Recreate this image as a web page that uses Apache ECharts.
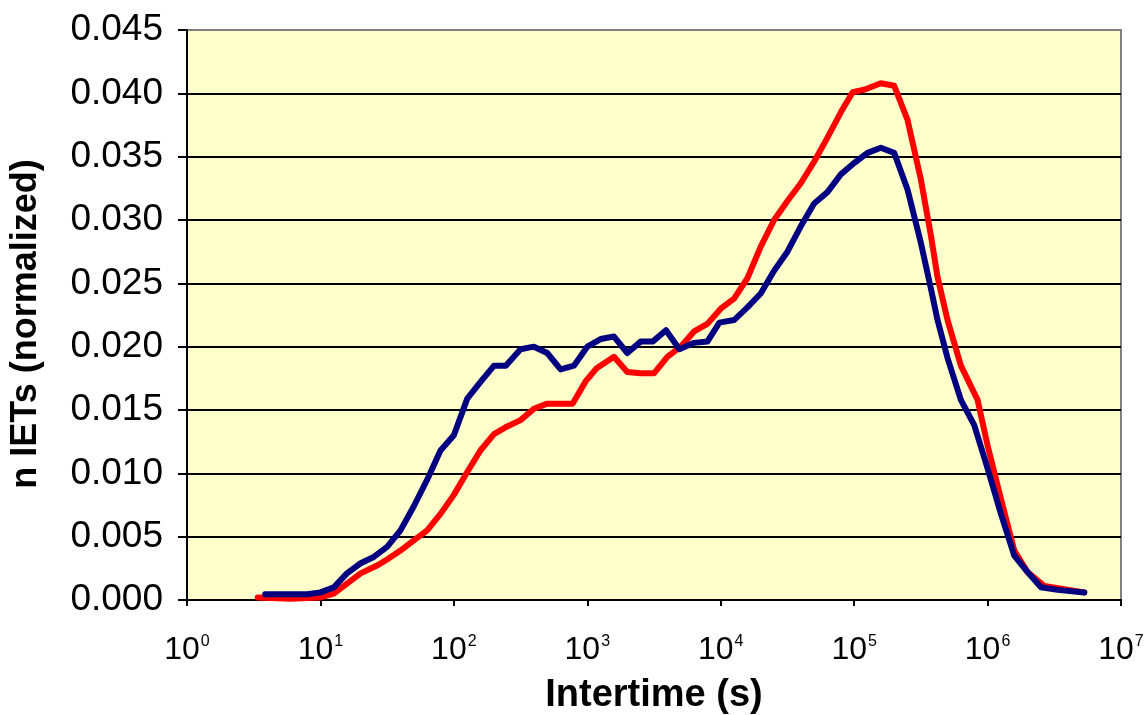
<!DOCTYPE html>
<html>
<head>
<meta charset="utf-8">
<script src="https://cdn.jsdelivr.net/npm/echarts@6/dist/echarts.min.js"></script>
<style>
  html, body { margin: 0; padding: 0; background: #ffffff; }
  #chart { width: 1144px; height: 715px; }
</style>
</head>
<body>
<div id="chart"></div>
<script>
// Intertime (s) and normalized counts
const redTime = [3.39, 5.89, 10, 12.6, 15.8, 20.0, 26.3, 31.6, 39.8, 50.1, 63.1, 79.4, 100, 126, 158, 200, 251, 316, 398, 501, 631, 776, 977, 1175, 1585, 1995, 2512, 3162, 3981, 5012, 6310, 7943, 10000, 12589, 15849, 19953, 25119, 31623, 39811, 50119, 63096, 79433, 97724, 120226, 158489, 199526, 251189, 316228, 375837, 421697, 501187, 630957, 841395, 1000000, 1258925, 1584893, 1995262, 2660725, 5308844];
const redValue = [0.0002, 0.0001, 0.0002, 0.0005, 0.0013, 0.0021, 0.0027, 0.0032, 0.0039, 0.0047, 0.0055, 0.0068, 0.0083, 0.0101, 0.0118, 0.0131, 0.0137, 0.0142, 0.0151, 0.0155, 0.0155, 0.0155, 0.0173, 0.0183, 0.0192, 0.0180, 0.0179, 0.0179, 0.0192, 0.0200, 0.0212, 0.0218, 0.0230, 0.0238, 0.0254, 0.0279, 0.0300, 0.0315, 0.0329, 0.0346, 0.0365, 0.0385, 0.0401, 0.0403, 0.0408, 0.0406, 0.0379, 0.0332, 0.0288, 0.0255, 0.0221, 0.0185, 0.0158, 0.0122, 0.0080, 0.0039, 0.0022, 0.0011, 0.0006];

const blueTime = [3.85, 7.94, 10, 12.6, 15.8, 20.0, 25.1, 31.6, 39.8, 50.1, 63.1, 79.4, 100, 126, 158, 200, 245, 316, 398, 501, 631, 794, 1000, 1259, 1585, 1995, 2512, 3090, 3890, 4898, 6310, 7943, 9772, 12589, 15849, 19953, 25119, 31623, 39811, 50119, 63096, 79433, 100000, 125893, 158489, 199526, 251189, 316228, 375837, 421697, 501187, 630957, 794328, 1000000, 1258925, 1584893, 1995262, 2511886, 3349654, 5308844];
const blueValue = [0.00045, 0.00045, 0.0006, 0.0010, 0.0021, 0.0029, 0.0034, 0.0042, 0.0055, 0.0074, 0.0095, 0.0118, 0.0130, 0.0159, 0.0172, 0.0185, 0.0185, 0.0198, 0.0200, 0.0195, 0.0182, 0.0185, 0.0200, 0.0206, 0.0208, 0.0195, 0.0204, 0.0204, 0.0213, 0.0198, 0.0203, 0.0204, 0.0219, 0.0221, 0.0231, 0.0242, 0.0260, 0.0275, 0.0295, 0.0313, 0.0322, 0.0336, 0.0345, 0.0353, 0.0357, 0.0353, 0.0324, 0.0282, 0.0246, 0.0221, 0.0191, 0.0158, 0.0138, 0.0104, 0.0068, 0.0035, 0.0022, 0.0010, 0.0008, 0.0006];

const xMin = 1, xMax = 1e7;
const yMin = 0, yMax = 0.045, yStep = 0.005;

const xTitle = 'Intertime (s)';
const yTitle = 'n IETs (normalized)';

function pairs(xs, ys) { return xs.map((x, i) => [x, ys[i]]); }

const font = '"Liberation Sans", Arial, sans-serif';
const chart = echarts.init(document.getElementById('chart'), null, { renderer: 'canvas' });

const gridColors = ['#000','#000','#000','#000','#000','#000','#000','#000','#000','#808080'];

chart.setOption({
  animation: false,
  backgroundColor: '#ffffff',
  grid: {
    left: 187, right: 23, top: 30, bottom: 115,
    show: true, backgroundColor: '#FFFFCC', borderColor: '#808080', borderWidth: 2,
    containLabel: false, outerBoundsMode: 'none'
  },
  xAxis: {
    type: 'log', logBase: 10, min: xMin, max: xMax, splitNumber: 7,
    name: xTitle, nameLocation: 'middle', nameGap: 77,
    nameTextStyle: { fontFamily: font, fontSize: 38, fontWeight: 'bold', color: '#000' },
    axisLine: { show: true, lineStyle: { color: '#000', width: 2 } },
    axisTick: { show: true, length: 6, lineStyle: { color: '#000', width: 2 } },
    minorTick: { show: false },
    splitLine: { show: false },
    axisLabel: {
      margin: 34, color: '#000', fontFamily: font, fontSize: 32,
      formatter: function (v) {
        const e = Math.round(Math.log10(v));
        return '10{sup|' + e + '}';
      },
      rich: {
        sup: { fontSize: 16, fontFamily: font, color: '#000', verticalAlign: 'top', lineHeight: 16, padding: [0, 0, 0, 1] }
      }
    }
  },
  yAxis: {
    type: 'value', min: yMin, max: yMax, interval: yStep,
    name: yTitle, nameLocation: 'middle', nameGap: 143, nameRotate: 90,
    nameTextStyle: { fontFamily: font, fontSize: 36, fontWeight: 'bold', color: '#000', padding: [0, 18, 0, 0] },
    axisLine: { show: true, lineStyle: { color: '#000', width: 2 } },
    axisTick: { show: true, length: 9, lineStyle: { color: '#000', width: 2 } },
    splitLine: { show: true, lineStyle: { color: gridColors, width: 2 } },
    axisLabel: {
      margin: 24, color: '#000', fontFamily: font, fontSize: 37,
      formatter: function (v) { return v.toFixed(3); }
    }
  },
  series: [
    {
      type: 'line', name: 'red', data: pairs(redTime, redValue),
      showSymbol: false, symbol: 'none', smooth: false,
      lineStyle: { color: '#FF0000', width: 6, join: 'round', cap: 'round' }
    },
    {
      type: 'line', name: 'blue', data: pairs(blueTime, blueValue),
      showSymbol: false, symbol: 'none', smooth: false,
      lineStyle: { color: '#000080', width: 6, join: 'round', cap: 'round' }
    }
  ]
});
</script>
</body>
</html>
